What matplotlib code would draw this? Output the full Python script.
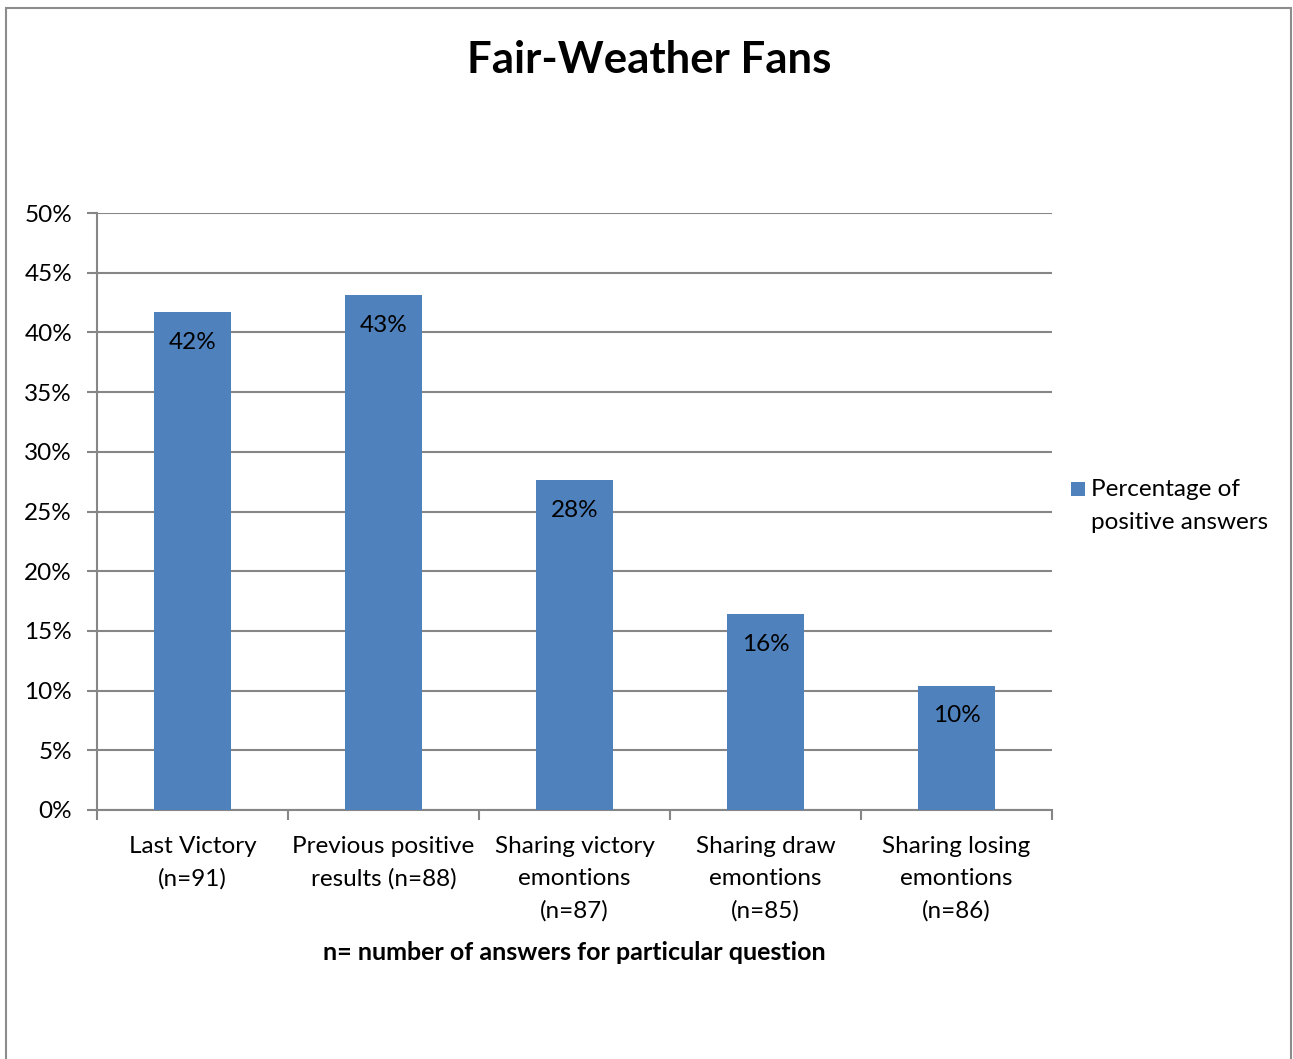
import matplotlib
matplotlib.use("Agg")
import matplotlib.pyplot as plt
from matplotlib.patches import Rectangle
from matplotlib.ticker import FixedLocator, PercentFormatter

plt.rcParams['font.family'] = ['Lato', 'DejaVu Sans']

categories = [
    "Last Victory\n(n=91)",
    "Previous positive\nresults (n=88)",
    "Sharing victory\nemontions\n(n=87)",
    "Sharing draw\nemontions\n(n=85)",
    "Sharing losing\nemontions\n(n=86)",
]
positive_share = [0.417, 0.431, 0.276, 0.164, 0.104]
series_name = "Percentage of\npositive answers"
title = "Fair-Weather Fans"
x_note = "n= number of answers for particular question"

BAR = "#4F81BD"
GRID = "#868686"
FS = 17.5

W, H = 1293, 1059
fig = plt.figure(figsize=(W / 100, H / 100), dpi=100)
fig.patch.set_facecolor("white")

# outer chart frame
fig.add_artist(Rectangle((6 / W, -0.05), (1291 - 6) / W, 1.05 - 8 / H,
                         transform=fig.transFigure, fill=False,
                         edgecolor="#8C8C8C", lw=1.5))

ax = fig.add_axes([97 / W, (H - 810) / H, (1052 - 97) / W, 597 / H])
xs = list(range(len(categories)))
bars = ax.bar(xs, positive_share, width=0.4, color=BAR, zorder=3,
              label=series_name)

ax.set_xlim(-0.5, len(categories) - 0.5)
ax.set_ylim(0, 0.5)
ax.yaxis.set_major_locator(FixedLocator([i * 0.05 for i in range(11)]))
ax.yaxis.set_major_formatter(PercentFormatter(1.0, decimals=0))
ax.grid(axis="y", color=GRID, lw=1.5, zorder=0)

ax.set_xticks(xs)
ax.set_xticklabels(categories, fontsize=FS, linespacing=1.62)
ax.set_xticks([i - 0.5 for i in range(len(categories) + 1)], minor=True)
ax.tick_params(axis="x", which="major", length=0, pad=19)
ax.tick_params(axis="x", which="minor", length=7, width=1.5, color=GRID)
ax.tick_params(axis="y", length=7, width=1.5, color=GRID, labelsize=FS, pad=11)

for side in ("top", "right"):
    ax.spines[side].set_visible(False)
for side in ("left", "bottom"):
    ax.spines[side].set_color(GRID)
    ax.spines[side].set_linewidth(1.5)

for b, v in zip(bars, positive_share):
    ax.annotate(f"{v:.0%}", (b.get_x() + b.get_width() / 2, v),
                xytext=(0, -30), textcoords="offset pixels",
                ha="center", va="center", fontsize=FS, zorder=4)

ax.set_xlabel(x_note, fontsize=FS + 0.5, fontweight="bold", labelpad=14)

fig.text(649 / W, 1 - 60 / H, title, ha="center", va="center",
         fontsize=31.5, fontweight="bold")

# legend: swatch beside the first line of a two-line entry
fig.add_artist(Rectangle((1071 / W, 1 - 496 / H), 14 / W, 14 / H,
                         transform=fig.transFigure, facecolor=BAR,
                         edgecolor="none"))
fig.text(1091 / W, 1 - 479 / H, series_name, ha="left", va="top",
         fontsize=FS, linespacing=1.72, transform=fig.transFigure)

fig.savefig("out.png", dpi=100, facecolor="white")
